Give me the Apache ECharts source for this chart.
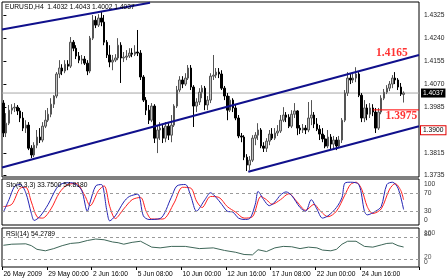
<!DOCTYPE html>
<html><head><meta charset="utf-8">
<script src="https://cdn.jsdelivr.net/npm/echarts@6/dist/echarts.min.js"></script>
<style>html,body{margin:0;padding:0;background:#fff}#c{width:448px;height:280px}</style>
</head><body><div id="c"></div>
<script>
// ---- data (EURUSD H4) ----
const opens=[1.4000,1.3890,1.3926,1.3974,1.3982,1.3985,1.3971,1.3945,1.3908,1.3919,1.3834,1.3809,1.3845,1.3875,1.3864,1.3915,1.3937,1.3959,1.3996,1.4026,
1.4107,1.4129,1.4118,1.4143,1.4136,1.4224,1.4202,1.4173,1.4158,1.4162,1.4147,1.4118,1.4239,1.4305,1.4287,1.4313,1.4298,1.4224,1.4177,1.4151,
1.4158,1.4166,1.4213,1.4166,1.4169,1.4173,1.4184,1.4180,1.4188,1.4184,1.4096,1.4011,1.3974,1.3937,1.3989,1.3871,1.3901,1.3908,1.3871,1.3915,
1.3882,1.3919,1.3989,1.4048,1.4085,1.4070,1.4092,1.4129,1.4059,1.3989,1.4004,1.4040,1.4055,1.3993,1.4011,1.4099,1.4103,1.4114,1.4107,1.4055,
1.4026,1.3974,1.4011,1.3982,1.3945,1.3879,1.3875,1.3801,1.3772,1.3790,1.3871,1.3882,1.3901,1.3842,1.3834,1.3860,1.3886,1.3871,1.3890,1.3897,
1.3937,1.3956,1.3948,1.3915,1.3959,1.3971,1.3908,1.3901,1.3908,1.3901,1.3945,1.3956,1.3923,1.3904,1.3886,1.3868,1.3842,1.3875,1.3849,1.3864,
1.3842,1.3864,1.3937,1.4037,1.4092,1.4085,1.4092,1.4107,1.4029,1.3945,1.3982,1.3959,1.3982,1.3967,1.3908,1.3967,1.4018,1.4040,1.4055,1.4070,
1.4092,1.4085,1.4059,1.4032];
const closes=[1.3890,1.3926,1.3974,1.3982,1.3985,1.3971,1.3945,1.3908,1.3919,1.3834,1.3809,1.3845,1.3875,1.3864,1.3915,1.3937,1.3959,1.3996,1.4026,1.4107,
1.4129,1.4118,1.4143,1.4136,1.4224,1.4202,1.4173,1.4158,1.4162,1.4147,1.4118,1.4239,1.4305,1.4287,1.4313,1.4298,1.4224,1.4177,1.4151,1.4158,
1.4166,1.4213,1.4166,1.4169,1.4173,1.4184,1.4180,1.4188,1.4184,1.4096,1.4011,1.3974,1.3937,1.3989,1.3871,1.3901,1.3908,1.3871,1.3915,1.3882,
1.3919,1.3989,1.4048,1.4085,1.4070,1.4092,1.4129,1.4059,1.3989,1.4004,1.4040,1.4055,1.3993,1.4011,1.4099,1.4103,1.4114,1.4107,1.4055,1.4026,
1.3974,1.4011,1.3982,1.3945,1.3879,1.3875,1.3801,1.3772,1.3790,1.3871,1.3882,1.3901,1.3842,1.3834,1.3860,1.3886,1.3871,1.3890,1.3897,1.3937,
1.3956,1.3948,1.3915,1.3959,1.3971,1.3908,1.3901,1.3908,1.3901,1.3945,1.3956,1.3923,1.3904,1.3886,1.3868,1.3842,1.3875,1.3849,1.3864,1.3842,
1.3864,1.3937,1.4037,1.4092,1.4085,1.4092,1.4107,1.4029,1.3945,1.3982,1.3959,1.3982,1.3967,1.3908,1.3967,1.4018,1.4040,1.4055,1.4070,1.4092,
1.4085,1.4059,1.4033,1.4037];
const lows=[1.3875,1.3875,1.3919,1.3959,1.3967,1.3956,1.3930,1.3897,1.3890,1.3827,1.3798,1.3801,1.3834,1.3853,1.3856,1.3908,1.3930,1.3948,1.3982,1.4018,
1.4092,1.4103,1.4110,1.4121,1.4129,1.4191,1.4162,1.4147,1.4143,1.4140,1.4103,1.4110,1.4232,1.4276,1.4280,1.4283,1.4213,1.4166,1.4132,1.4121,
1.4151,1.4158,1.4074,1.4151,1.4158,1.4166,1.4169,1.4173,1.4173,1.4085,1.4004,1.3956,1.3923,1.3930,1.3853,1.3816,1.3864,1.3853,1.3856,1.3864,
1.3856,1.3912,1.3982,1.4040,1.4055,1.4063,1.4085,1.4048,1.3912,1.3967,1.3993,1.4018,1.3974,1.3974,1.4000,1.4085,1.4092,1.4092,1.4048,1.4011,
1.3937,1.3967,1.3967,1.3937,1.3871,1.3856,1.3790,1.3750,1.3753,1.3783,1.3845,1.3864,1.3834,1.3820,1.3820,1.3845,1.3864,1.3864,1.3879,1.3890,
1.3930,1.3930,1.3908,1.3908,1.3945,1.3882,1.3886,1.3890,1.3886,1.3893,1.3919,1.3908,1.3897,1.3864,1.3856,1.3834,1.3834,1.3831,1.3834,1.3827,
1.3834,1.3853,1.3930,1.4026,1.4070,1.4074,1.4077,1.4022,1.3930,1.3930,1.3937,1.3945,1.3952,1.3890,1.3901,1.3959,1.4011,1.4033,1.4044,1.4055,
1.4070,1.4048,1.4026,1.4002];
const highs=[1.4011,1.3963,1.3993,1.3996,1.4000,1.3993,1.3982,1.3967,1.3937,1.3930,1.3845,1.3856,1.3901,1.3908,1.3930,1.3974,1.3982,1.4018,1.4029,1.4114,
1.4158,1.4143,1.4158,1.4158,1.4243,1.4232,1.4213,1.4188,1.4177,1.4173,1.4158,1.4247,1.4324,1.4320,1.4327,1.4335,1.4324,1.4232,1.4213,1.4177,
1.4180,1.4239,1.4224,1.4188,1.4195,1.4202,1.4202,1.4213,1.4269,1.4195,1.4103,1.4022,1.3993,1.4000,1.3996,1.3919,1.3930,1.3923,1.3930,1.3926,
1.3956,1.3996,1.4063,1.4099,1.4099,1.4110,1.4140,1.4140,1.4066,1.4018,1.4055,1.4066,1.4063,1.4026,1.4110,1.4177,1.4129,1.4129,1.4121,1.4063,
1.4037,1.4026,1.4018,1.3993,1.3956,1.3890,1.3882,1.3812,1.3805,1.3882,1.3893,1.3926,1.3908,1.3856,1.3871,1.3901,1.3908,1.3908,1.3919,1.3956,
1.3985,1.3967,1.3959,1.3974,1.4000,1.3974,1.3919,1.3923,1.3919,1.4004,1.4011,1.3967,1.3945,1.3919,1.3908,1.3882,1.3901,1.3886,1.3879,1.3875,
1.3879,1.3945,1.4048,1.4114,1.4107,1.4107,1.4132,1.4114,1.4037,1.4011,1.3996,1.4000,1.3996,1.3982,1.3982,1.4029,1.4052,1.4066,1.4081,1.4103,
1.4114,1.4092,1.4074,1.4043];
// stochastic (bar index, value)
const stochK=[[0,28],[2,55],[4,84],[6,88],[8,70],[10,25],[11,10],[13,18],[16,45],[19,80],[21,90],[24,92],[26,88],[28,75],[30,30],[31,50],[33,85],[35,88],[37,30],[38,9],
[40,20],[43,50],[45,62],[48,67],[50,20],[52,12],[56,14],[60,60],[62,85],[65,88],[67,62],[69,30],[72,55],[74,70],[76,60],[78,45],[80,30],[82,28],[84,15],[86,12],
[88,14],[90,45],[91,73],[93,55],[95,42],[97,50],[99,65],[101,72],[103,64],[106,38],[108,30],[110,55],[112,35],[114,15],[116,20],[119,38],[121,60],[122,91],[124,93],[127,88],
[129,30],[130,22],[133,30],[135,40],[137,88],[139,93],[141,80],[143,33.75]];
const stochD=[[0,40],[3,45],[6,80],[8,82],[10,50],[12,18],[14,15],[17,35],[20,70],[23,88],[26,90],[29,65],[31,42],[34,75],[36,85],[38,40],[40,14],[43,35],[46,55],[49,60],
[51,30],[53,13],[57,13],[61,48],[64,82],[67,80],[69,52],[71,38],[74,62],[77,60],[80,40],[83,28],[86,15],[89,18],[92,62],[94,55],[96,45],[99,55],[102,68],[105,50],
[108,32],[111,45],[113,32],[116,18],[119,30],[122,65],[124,88],[126,93],[128,78],[130,40],[132,25],[135,35],[138,78],[140,90],[142,75],[143,54.818]];
const rsi=[[0,59],[3,62],[8,63],[10,58],[12,48],[15,44],[18,50],[21,58],[24,64],[27,66],[30,72],[33,76],[36,74],[39,68],[41,66],[43,62],[46,67],[49,70],[51,62],[53,54],
[56,52],[60,56],[65,56],[70,50],[75,52],[79,45],[83,40],[86,34],[89,33],[91,47],[94,42],[97,52],[100,56],[103,55],[106,50],[109,54],[112,52],[114,46],[117,44],[119,48],
[121,62],[123,70],[126,70],[129,56],[132,54],[135,60],[137,64],[139,65],[141,58],[143,54.28]];
// tick labels
const priceTicks=[1.3735,1.3815,1.3900,1.3985,1.4070,1.4155,1.4240,1.4325];
const stochTicksA=[100,30];
const stochTicksB=[70,0];
const stochLevels=[70,30];
const rsiTicksA=[100,20];
const rsiTicksB=[80,0];
const rsiLevels=[80,20];
const timeTickIndex=[0,16,32,48,64,80,96,112,128];
const timeTickLabels=['26 May 2009','29 May 00:00','2 Jun 16:00','5 Jun 08:00','10 Jun 00:00','12 Jun 16:00','17 Jun 08:00','22 Jun 00:00','24 Jun 16:00'];
// trend lines (bar index, price)
const channelTop=[[-0.5,1.4271],[52.4,1.4369]];
const channelMid=[[-0.5,1.3763],[148.5,1.4177]];
const channelLow=[[87.5,1.3747],[148.5,1.3915]];
const levelLine=[[132,1.3975],[148.5,1.3975]];
const levelNotes=[{i:138.8,p:1.4186,t:'1.4165'},{i:142.2,p:1.3951,t:'1.3975'}];
const lastPrice=1.4037, markedPrice=1.3900;
const slotCount=149;

const slots=Array.from({length:slotCount},(_,i)=>String(i));
const candles=opens.map((o,i)=>[o,closes[i],lows[i],highs[i]]);

// pick a narrow sans if present, and size small text like the terminal's
const cv=document.createElement('canvas').getContext('2d');
function w(font,txt){cv.font=font;return cv.measureText(txt).width;}
const probe='29 May 00:00 1.4325';
const hasNarrow=w("20px 'Liberation Sans Narrow', monospace",probe)!==w('20px monospace',probe);
const FF=hasNarrow?"'Liberation Sans Narrow', 'Liberation Sans', sans-serif":"'Liberation Sans', Arial, sans-serif";
const fs=Math.min(8,Math.round(10*40.5/w('10px '+FF,'29 May 00:00')*10)/10);

const chart=echarts.init(document.getElementById('c'),null,{renderer:'canvas'});
const gridBase={left:2,right:29,show:true,borderColor:'#000',borderWidth:1,backgroundColor:'transparent'};
const hiddenVal=(g)=>({type:'value',gridIndex:g,min:-0.5,max:slotCount-0.5,show:false});
const ts={fontSize:fs,fontWeight:'normal',color:'#000',fontFamily:FF};
const shifted=(color)=>({
  dn:{padding:[10,0,0,0],fontSize:fs,color,fontFamily:FF},
  dn2:{padding:[6,0,0,0],fontSize:fs,color,fontFamily:FF},
  up:{padding:[0,0,10,0],fontSize:fs,color,fontFamily:FF},
  up2:{padding:[0,0,7,0],fontSize:fs,color,fontFamily:FF},
  up3:{padding:[0,0,4,0],fontSize:fs,color,fontFamily:FF},
  n:{fontSize:fs,color,fontFamily:FF}});
const sideAxis=(g,min,max,vals,fmt,color)=>({type:'value',gridIndex:g,position:'right',min,max,
  axisLine:{show:false},splitLine:{show:false},axisTick:{show:false},
  axisLabel:{customValues:vals,margin:5,fontSize:fs,color,fontFamily:FF,showMinLabel:true,showMaxLabel:true,hideOverlap:false,
    formatter:fmt,rich:shifted(color)}});
chart.setOption({
  animation:false,
  backgroundColor:'#fff',
  textStyle:{fontFamily:FF},
  title:[
    {text:'EURUSD,H4  1.4032 1.4043 1.4002 1.4037',left:5,top:4,padding:0,textStyle:ts},
    {text:'Sto(5,3,3) 33.7500 54.8180',left:6,top:182,padding:0,textStyle:ts},
    {text:'RSI(14) 54.2789',left:6,top:231,padding:0,textStyle:ts}
  ],
  grid:[
    Object.assign({top:2,height:175},gridBase),
    Object.assign({top:179,height:46},gridBase),
    Object.assign({top:228,height:39},gridBase)
  ],
  xAxis:[
    {type:'category',gridIndex:0,data:slots,show:false},
    hiddenVal(0),hiddenVal(1),hiddenVal(2),
    {type:'category',gridIndex:2,data:slots,position:'bottom',
      axisLine:{show:false},
      axisTick:{show:true,length:3,interval:(i)=>timeTickIndex.includes(i),lineStyle:{color:'#000'}},
      axisLabel:{show:true,interval:(i)=>timeTickIndex.includes(i),align:'left',margin:4,fontSize:fs,color:'#000',fontFamily:FF,hideOverlap:false,
        formatter:(v)=>timeTickLabels[timeTickIndex.indexOf(Number(v))]||''},
      splitLine:{show:false}}
  ],
  yAxis:[
    {type:'value',gridIndex:0,position:'right',min:1.3728,max:1.4372,
      axisLine:{show:false},splitLine:{show:false},
      axisTick:{show:true,length:3,customValues:priceTicks,lineStyle:{color:'#000'}},
      axisLabel:{customValues:priceTicks,formatter:v=>v.toFixed(4),fontSize:fs,color:'#222',margin:5,fontFamily:FF,hideOverlap:false}},
    sideAxis(1,0,100,stochTicksA,v=>v===100?'{dn|100}':'{n|'+v+'}','#333'),
    sideAxis(1,0,100,stochTicksB,v=>v===0?'{up|0}':'{n|'+v+'}','#333'),
    sideAxis(2,0,106,rsiTicksA,v=>v===100?'{dn2|100}':'{up3|'+v+'}','#555'),
    sideAxis(2,0,106,rsiTicksB,v=>v===0?'{up|0}':'{up2|'+v+'}','#444')
  ],
  series:[
    {type:'candlestick',xAxisIndex:0,yAxisIndex:0,data:candles,barWidth:'72%',
      itemStyle:{color:'#c4c4c4',color0:'#000',borderColor:'#555',borderColor0:'#000',borderWidth:1}},
    {type:'line',xAxisIndex:1,yAxisIndex:0,data:[[-0.5,lastPrice],[slotCount-0.5,lastPrice]],symbol:'none',z:1,
      lineStyle:{color:'#a8a8a8',width:1},
      endLabel:{show:true,distance:2,formatter:lastPrice.toFixed(4),backgroundColor:'#000',color:'#fff',padding:[1,2,1,2],fontSize:fs,fontFamily:FF}},
    {type:'line',xAxisIndex:1,yAxisIndex:0,data:[[-0.5,markedPrice],[slotCount-0.5,markedPrice]],symbol:'none',z:7,
      lineStyle:{color:'rgba(0,0,0,0)',width:1},
      endLabel:{show:true,distance:2,formatter:markedPrice.toFixed(4),backgroundColor:'#fff',borderColor:'#e00000',borderWidth:1,color:'#000',padding:[1,2,0,2],fontSize:fs,fontFamily:FF}},
    {type:'line',xAxisIndex:1,yAxisIndex:0,data:channelTop,symbol:'none',lineStyle:{color:'#10108c',width:2},z:5},
    {type:'line',xAxisIndex:1,yAxisIndex:0,data:channelMid,symbol:'none',lineStyle:{color:'#10108c',width:2},z:5},
    {type:'line',xAxisIndex:1,yAxisIndex:0,data:channelLow,symbol:'none',lineStyle:{color:'#10108c',width:2},z:5},
    {type:'line',xAxisIndex:1,yAxisIndex:0,data:levelLine,symbol:'none',lineStyle:{color:'#ff0000',width:1},z:5},
    {type:'scatter',xAxisIndex:1,yAxisIndex:0,symbolSize:0,z:6,
      data:levelNotes.map(n=>({value:[n.i,n.p],name:n.t})),
      label:{show:true,position:'inside',formatter:p=>p.name,color:'#ff0000',fontFamily:"'Liberation Serif', 'Times New Roman', serif",fontWeight:'bold',fontSize:11.5}},
    {type:'line',xAxisIndex:2,yAxisIndex:1,data:stochK,symbol:'none',smooth:0.3,lineStyle:{color:'#2424b4',width:1},z:4,
      markLine:{silent:true,symbol:['none','none'],label:{show:false},lineStyle:{color:'#9a9a9a',type:[3,3],width:1},data:stochLevels.map(v=>({yAxis:v}))}},
    {type:'line',xAxisIndex:2,yAxisIndex:1,data:stochD,symbol:'none',smooth:0.3,lineStyle:{color:'#ff2020',width:1},z:3},
    {type:'line',xAxisIndex:3,yAxisIndex:3,data:rsi,symbol:'none',lineStyle:{color:'#3e6658',width:1},
      markLine:{silent:true,symbol:['none','none'],label:{show:false},lineStyle:{color:'#9a9a9a',type:[3,3],width:1},data:rsiLevels.map(v=>({yAxis:v}))}}
  ]
});
</script></body></html>
